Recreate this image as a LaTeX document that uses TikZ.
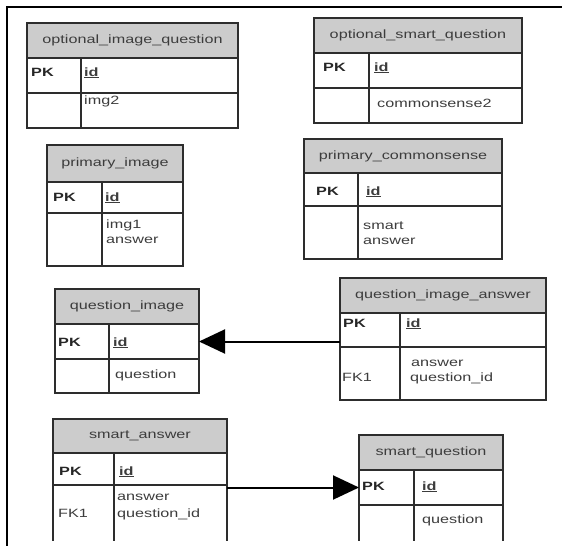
\documentclass[tikz,border=0pt]{standalone}
\usepackage{fontspec}
\setmainfont{Liberation Sans}[FakeStretch=1.35]
\usetikzlibrary{arrows.meta}

\definecolor{headgray}{RGB}{204,204,204}
\definecolor{rulegray}{RGB}{45,45,45}
\definecolor{inkgray}{RGB}{60,60,60}

\tikzset{
  cellbase/.style={rectangle, draw=rulegray, line width=1.6pt, anchor=north west,
                   inner sep=0pt, outer sep=0pt},
  headcell/.style={cellbase, fill=headgray, text=inkgray,
                   font=\fontsize{12}{14}\selectfont},
  bodycell/.style={cellbase, fill=white},
  lbl/.style={anchor=base west, inner sep=0pt, text=inkgray,
              font=\fontsize{12}{14}\selectfont},
  keylbl/.style={lbl, text=black!85, font=\fontsize{12}{14}\selectfont\bfseries},
  fkline/.style={draw=black, line width=2pt, -{Triangle[length=26pt,width=24pt]}},
  frameline/.style={draw=black, line width=2pt}
}

% #1 name, #2 left, #3 top, #4 right, #5 divider, #6 header bottom,
% #7 key-row bottom, #8 bottom, #9 title
\newcommand\ertable[9]{%
  \node[headcell, minimum width={#4-#2}, minimum height={#6-#3}] (#1) at (#2,#3) {#9};
  \node[bodycell, minimum width={#5-#2}, minimum height={#7-#6}] (#1-pkk) at (#2,#6) {};
  \node[bodycell, minimum width={#4-#5}, minimum height={#7-#6}] (#1-pk) at (#5,#6) {};
  \node[bodycell, minimum width={#5-#2}, minimum height={#8-#7}] (#1-ak) at (#2,#7) {};
  \node[bodycell, minimum width={#4-#5}, minimum height={#8-#7}] (#1-at) at (#5,#7) {};
}
\newcommand\pkid{\underline{\textbf{id}}}

\begin{document}
\begin{tikzpicture}[x=1pt,y=-1pt]
\useasboundingbox (0,0) rectangle (562,546);

\begin{scope}
\clip (0,0) rectangle (562,540.5);
% tables
\ertable{oiq}{27}{23}{238}{81}{58}{93}{128}{optional\_image\_question}
\ertable{osq}{314}{18}{522}{369}{53}{88}{123}{optional\_smart\_question}
\ertable{pimg}{47}{145}{183}{102}{182}{213}{266}{primary\_image}
\ertable{pcs}{304}{139}{502}{358}{173}{206}{259}{primary\_commonsense}
\ertable{qi}{55}{289}{199}{109}{324}{359}{393}{question\_image}
\ertable{qia}{340}{278}{546}{400}{313}{347}{400}{question\_image\_answer}
\ertable{sa}{53}{419}{227}{114}{453}{485}{560}{smart\_answer}
\ertable{sq}{359}{435}{503}{414}{470}{505}{560}{smart\_question}
\end{scope}

% optional_image_question
\node[keylbl] (oiq-k) at (31,76) {PK};
\node[lbl] (oiq-id) at (84,76) {\pkid};
\node[lbl] (oiq-a1) at (84,104) {img2};
% optional_smart_question
\node[keylbl] (osq-k) at (323,71) {PK};
\node[lbl] (osq-id) at (374,71) {\pkid};
\node[lbl] (osq-a1) at (377,107) {commonsense2};
% primary_image
\node[keylbl] (pimg-k) at (53,201) {PK};
\node[lbl] (pimg-id) at (105,201) {\pkid};
\node[lbl] (pimg-a1) at (106,228) {img1};
\node[lbl] (pimg-a2) at (106,243) {answer};
% primary_commonsense
\node[keylbl] (pcs-k) at (316,195) {PK};
\node[lbl] (pcs-id) at (366,195) {\pkid};
\node[lbl] (pcs-a1) at (363,229) {smart};
\node[lbl] (pcs-a2) at (363,244) {answer};
% question_image
\node[keylbl] (qi-k) at (58,346) {PK};
\node[lbl] (qi-id) at (113,346) {\pkid};
\node[lbl] (qi-a1) at (115,378) {question};
% question_image_answer
\node[keylbl] (qia-k) at (343,327) {PK};
\node[lbl] (qia-id) at (406,327) {\pkid};
\node[lbl] (qia-a1) at (411,366) {answer};
\node[lbl] (qia-a2) at (410,381) {question\_id};
\node[lbl] (qia-fk) at (342,381) {FK1};
% smart_answer
\node[keylbl] (sa-k) at (59,475) {PK};
\node[lbl] (sa-id) at (119,475) {\pkid};
\node[lbl] (sa-a1) at (117,500) {answer};
\node[lbl] (sa-a2) at (117,517) {question\_id};
\node[lbl] (sa-fk) at (58,517) {FK1};
% smart_question
\node[keylbl] (sq-k) at (362,490) {PK};
\node[lbl] (sq-id) at (422,490) {\pkid};
\node[lbl] (sq-a1) at (422,523) {question};

% foreign-key references
\draw[fkline] (qi-pk.east -| qia.west) -- (qi-pk.east);
\draw[fkline] (sq-pkk.west -| sa.east) -- (sq-pkk.west);

% page frame
\coordinate (fr-a) at (562,7);
\coordinate (fr-b) at (7,7);
\coordinate (fr-c) at (7,546);
\draw[frameline] (fr-a) -- (fr-b) -- (fr-c);
\end{tikzpicture}
\end{document}
